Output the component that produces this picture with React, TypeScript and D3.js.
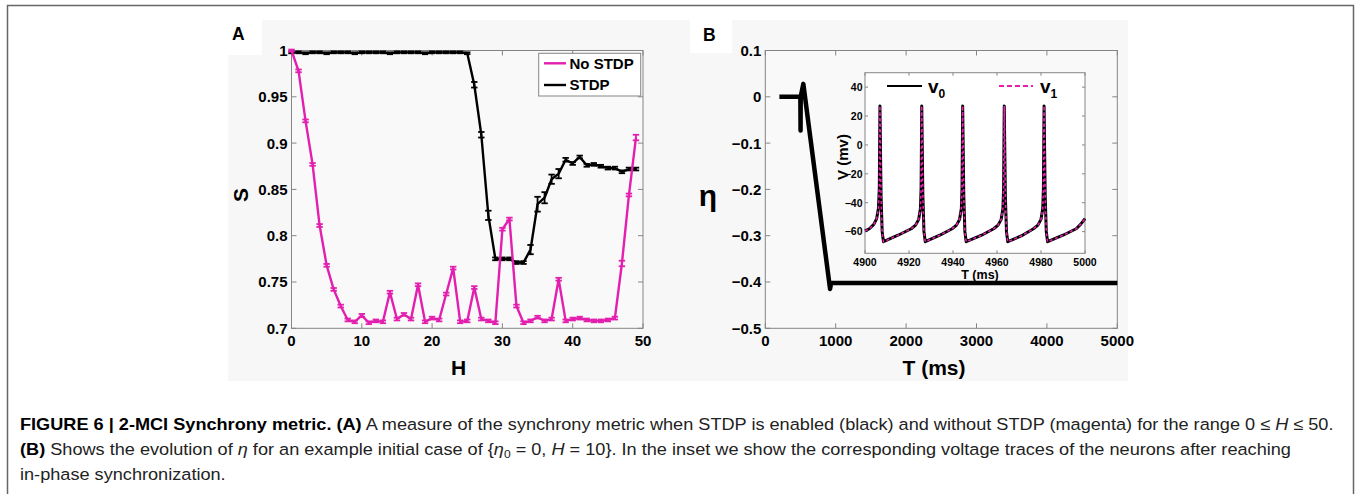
import React, { useEffect, useRef } from "react";
import * as d3 from "d3";

// ---- panel A : synchrony metric S vs H ----
const hValues = [
  0, 1, 2, 3, 4, 5, 6, 7, 8, 9, 10, 11, 12, 13, 14, 15, 16, 17, 18, 19, 20, 21, 22, 23, 24,
  25, 26, 27, 28, 29, 30, 31, 32, 33, 34, 35, 36, 37, 38, 39, 40, 41, 42, 43, 44, 45, 46, 47, 48, 49,
];
const noStdp = [
  1.0, 0.978, 0.924, 0.877, 0.811, 0.768, 0.742, 0.724, 0.709, 0.707, 0.714, 0.706, 0.708, 0.707, 0.739,
  0.71, 0.715, 0.71, 0.747, 0.707, 0.711, 0.709, 0.737, 0.765, 0.707, 0.708, 0.744, 0.71, 0.708, 0.706,
  0.807, 0.818, 0.724, 0.706, 0.708, 0.712, 0.708, 0.71, 0.753, 0.708, 0.71, 0.711, 0.709, 0.708, 0.708,
  0.709, 0.711, 0.77, 0.844, 0.906,
];
const noStdpErr = [
  0.001, 0.0015, 0.0015, 0.0015, 0.0015, 0.0015, 0.0015, 0.0015, 0.0015, 0.0015, 0.0015, 0.0015, 0.0015,
  0.0015, 0.0015, 0.0015, 0.0015, 0.0015, 0.0015, 0.0015, 0.0015, 0.0015, 0.0015, 0.0015, 0.0015, 0.0015,
  0.0015, 0.0015, 0.0015, 0.0015, 0.0015, 0.0015, 0.0015, 0.0015, 0.0015, 0.0015, 0.0015, 0.0015, 0.0015,
  0.0015, 0.0015, 0.0015, 0.0015, 0.0015, 0.0015, 0.0015, 0.0015, 0.003, 0.0015, 0.003,
];
const stdp = [
  0.998, 0.998, 0.997, 0.998, 0.998, 0.997, 0.998, 0.998, 0.998, 0.997, 0.998, 0.998, 0.998, 0.998, 0.997,
  0.998, 0.998, 0.998, 0.998, 0.997, 0.998, 0.998, 0.998, 0.998, 0.998, 0.997, 0.963, 0.909, 0.822, 0.775,
  0.775, 0.775, 0.771, 0.771, 0.785, 0.834, 0.841, 0.861, 0.867, 0.882, 0.878, 0.885, 0.876, 0.877, 0.875,
  0.873, 0.873, 0.869, 0.872, 0.872,
];
const stdpErr = [
  0.001, 0.001, 0.001, 0.001, 0.001, 0.001, 0.001, 0.001, 0.001, 0.001, 0.001, 0.001, 0.001, 0.001, 0.001,
  0.001, 0.001, 0.001, 0.001, 0.001, 0.001, 0.001, 0.001, 0.001, 0.001, 0.001, 0.003, 0.003, 0.005, 0.0015,
  0.0015, 0.0015, 0.0015, 0.0015, 0.005, 0.008, 0.006, 0.005, 0.005, 0.002, 0.0015, 0.0015, 0.0015, 0.0015,
  0.0015, 0.0015, 0.0015, 0.0015, 0.0015, 0.0015,
];
const sTicks = [0.7, 0.75, 0.8, 0.85, 0.9, 0.95, 1];
const sTickLabels = ["0.7", "0.75", "0.8", "0.85", "0.9", "0.95", "1"];
const hTicks = [0, 10, 20, 30, 40, 50];

// ---- panel B : eta vs T ----
const etaTime = [200, 498, 501, 503, 540, 920, 935, 5000];
const etaValue = [0, 0, -0.073, 0.0, 0.028, -0.415, -0.402, -0.402];
const etaTicks = [0.1, 0, -0.1, -0.2, -0.3, -0.4, -0.5];
const tTicks = [0, 1000, 2000, 3000, 4000, 5000];

// ---- inset : voltage traces ----
const vTime = [
  4900, 4902, 4904, 4905.3, 4906.1, 4906.5, 4906.8, 4907.3, 4907.8, 4908.4,
  4915, 4921, 4923, 4924.4, 4925.2, 4925.5, 4925.8, 4926.3, 4926.8, 4927.4,
  4934, 4939.6, 4941.6, 4943, 4943.8, 4944.1, 4944.4, 4944.9, 4945.4, 4946,
  4953, 4958.5, 4960.5, 4961.9, 4962.7, 4963, 4963.3, 4963.8, 4964.3, 4964.9,
  4971, 4976.6, 4978.6, 4980, 4980.8, 4981.1, 4981.4, 4981.9, 4982.4, 4983,
  4990, 4996, 4998, 5000,
];
const v0 = [
  -59.5, -58, -55, -51, -44, -30, 27, -35, -60, -67,
  -62.5, -58, -55.5, -51.5, -44, -30, 27, -35, -60, -67,
  -62.5, -58, -55.5, -51.5, -44, -30, 27, -35, -60, -67,
  -62.5, -58, -55.5, -51.5, -44, -30, 27, -35, -60, -67,
  -63, -58, -55.5, -51.5, -44, -30, 27, -35, -60, -67,
  -62.5, -58, -55, -51,
];
// in-phase synchronization: the second neuron follows the same trace
const v1 = v0;
const vTicks = [40, 20, 0, -20, -40, -60];
const vtTicks = [4900, 4920, 4940, 4960, 4980, 5000];

const magenta = "#e21fae";
const axisGrey = "#858585";
const font = "'Liberation Sans', Arial, Helvetica, sans-serif";

const minus = (s: string) => s.replace("-", "\u2212");

function Frame(props: any) {
  const { x, y, xTicks, yTicks, xFmt, yFmt, tick, size, xLabY, yLabGap, fill } = props;
  const [x0, x1] = x.range();
  const [yb, yt] = y.range();
  return (
    <g fontFamily={font} fontWeight="bold" fontSize={size} fill="#000">
      <rect x={x0} y={yt} width={x1 - x0} height={yb - yt} fill={fill || "none"} stroke={axisGrey} strokeWidth={1} />
      {xTicks.map((t: number, i: number) => (
        <g key={"x" + i}>
          <line x1={x(t)} x2={x(t)} y1={yb} y2={yb - tick} stroke={axisGrey} />
          <line x1={x(t)} x2={x(t)} y1={yt} y2={yt + tick} stroke={axisGrey} />
          <text x={x(t)} y={xLabY} dy="0.36em" textAnchor="middle">{xFmt(t, i)}</text>
        </g>
      ))}
      {yTicks.map((t: number, i: number) => (
        <g key={"y" + i}>
          <line x1={x0} x2={x0 + tick} y1={y(t)} y2={y(t)} stroke={axisGrey} />
          <line x1={x1} x2={x1 - tick} y1={y(t)} y2={y(t)} stroke={axisGrey} />
          <text x={x0 - yLabGap} y={y(t)} dy="0.36em" textAnchor="end">{yFmt(t, i)}</text>
        </g>
      ))}
    </g>
  );
}

function ErrorLine(props: any) {
  const { x, y, xs, ys, errs, color } = props;
  const line = d3.line<number>().x((d, i) => x(xs[i])).y((d) => y(d));
  return (
    <g>
      <path d={line(ys) || ""} fill="none" stroke={color} strokeWidth={2.4} strokeLinejoin="round" />
      {ys.map((v: number, i: number) => {
        const cx = x(xs[i]);
        const lo = y(v - errs[i]);
        const hi = y(v + errs[i]);
        return (
          <g key={i} stroke={color} strokeWidth={1.8}>
            <line x1={cx} x2={cx} y1={lo} y2={hi} />
            <line x1={cx - 3.2} x2={cx + 3.2} y1={lo} y2={lo} />
            <line x1={cx - 3.2} x2={cx + 3.2} y1={hi} y2={hi} />
          </g>
        );
      })}
    </g>
  );
}

export default function App() {
  const capRef = useRef<SVGGElement>(null);

  useEffect(() => {
    // fit the caption to the page width of the reference (condensed face)
    const g = capRef.current;
    if (!g) return;
    const lines = Array.from(g.querySelectorAll("text")) as SVGTextElement[];
    const w = lines[0].getBBox().width;
    const k = 1315 / w;
    lines.forEach((t) => t.setAttribute("transform", `translate(20,0) scale(${k},1)`));
  }, []);

  const xA = d3.scaleLinear().domain([0, 50]).range([291.5, 643]);
  const yA = d3.scaleLinear().domain([0.7, 1]).range([328.3, 50.5]);
  const xB = d3.scaleLinear().domain([0, 5000]).range([765.3, 1117.3]);
  const yB = d3.scaleLinear().domain([-0.5, 0.1]).range([328.3, 50.5]);
  const xI = d3.scaleLinear().domain([4900, 5000]).range([865, 1085]);
  const yI = d3.scaleLinear().domain([-75, 50]).range([253.3, 72.7]);

  const etaLine = d3.line<number>().x((d, i) => xB(etaTime[i])).y((d) => yB(d));
  const vLine = d3.line<number>().x((d, i) => xI(vTime[i])).y((d) => yI(d));

  return (
    <svg width={1360} height={494} style={{ position: "absolute", left: 0, top: 0 }}>
      <rect x={0} y={0} width={1360} height={494} fill="#fff" />
      <rect x={7.5} y={5.5} width={1346} height={500} fill="none" stroke="#666" strokeWidth={1.5} />
      {/* figure background */}
      <rect x={228} y={20} width={900} height={361} fill="#f7f7f7" />
      <rect x={228} y={20} width={34} height={35} fill="#fff" />
      <rect x={690} y={20} width={42} height={33} fill="#fff" />

      {/* ---------------- panel A ---------------- */}
      <text x={232} y={40} fontFamily={font} fontWeight="bold" fontSize={17.5}>A</text>
      <Frame
        x={xA} y={yA} xTicks={hTicks} yTicks={sTicks} tick={5} size={15}
        xFmt={(t: number) => String(t)} yFmt={(t: number, i: number) => sTickLabels[i]}
        xLabY={341} yLabGap={4} fill="#f9f9f9"
      />
      <ErrorLine x={xA} y={yA} xs={hValues} ys={stdp} errs={stdpErr} color="#000" />
      <ErrorLine x={xA} y={yA} xs={hValues} ys={noStdp} errs={noStdpErr} color={magenta} />
      <g fontFamily={font} fontWeight="bold" fontSize={15}>
        <rect x={538.7} y={53.3} width={102} height={42.7} fill="#fff" stroke={axisGrey} />
        <line x1={544} x2={566} y1={63.3} y2={63.3} stroke={magenta} strokeWidth={2.4} />
        <text x={569.5} y={63.3} dy="0.36em">No STDP</text>
        <line x1={544} x2={566} y1={85} y2={85} stroke="#000" strokeWidth={2.4} />
        <text x={569.5} y={85} dy="0.36em">STDP</text>
      </g>
      <text x={458.5} y={375} textAnchor="middle" fontFamily={font} fontWeight="bold" fontSize={21}>H</text>
      <text transform="translate(248,195) rotate(-90)" textAnchor="middle" fontFamily={font} fontWeight="bold" fontSize={21}>S</text>

      {/* ---------------- panel B ---------------- */}
      <text x={703} y={40.5} fontFamily={font} fontWeight="bold" fontSize={17.5}>B</text>
      <Frame
        x={xB} y={yB} xTicks={tTicks} yTicks={etaTicks} tick={5} size={15}
        xFmt={(t: number) => String(t)} yFmt={(t: number) => minus(String(t))}
        xLabY={341} yLabGap={4} fill="#f9f9f9"
      />
      <path d={etaLine(etaValue) || ""} fill="none" stroke="#000" strokeWidth={4.5} strokeLinejoin="round" />
      <text x={934} y={375} textAnchor="middle" fontFamily={font} fontWeight="bold" fontSize={21}>T (ms)</text>
      <text x={708} y={206} textAnchor="middle" fontFamily={font} fontWeight="bold" fontSize={30}>η</text>

      {/* ---------------- inset ---------------- */}
      <Frame
        x={xI} y={yI} xTicks={vtTicks} yTicks={vTicks} tick={3} size={10.5}
        xFmt={(t: number) => String(t)} yFmt={(t: number) => minus(String(t))}
        xLabY={262} yLabGap={2.5} fill="#fff"
      />
      <path d={vLine(v0) || ""} fill="none" stroke="#000" strokeWidth={3} strokeLinejoin="round" />
      <path d={vLine(v1) || ""} fill="none" stroke={magenta} strokeWidth={1.6} strokeDasharray="3,2.5" />
      <g fontFamily={font} fontWeight="bold">
        <line x1={887} x2={922} y1={86} y2={86} stroke="#000" strokeWidth={2.2} />
        <text x={928} y={93} fontSize={19}>v<tspan fontSize={12} dy={5}>0</tspan></text>
        <line x1={999} x2={1033} y1={86} y2={86} stroke={magenta} strokeWidth={2} strokeDasharray="5,3" />
        <text x={1040} y={93} fontSize={19}>v<tspan fontSize={12} dy={5}>1</tspan></text>
        <text x={980} y={279} textAnchor="middle" fontSize={12.5}>T (ms)</text>
        <text transform="translate(848,157) rotate(-90)" textAnchor="middle" fontSize={15}>V (mv)</text>
      </g>

      {/* ---------------- caption ---------------- */}
      <g ref={capRef} fontFamily="'Liberation Sans Narrow', 'Liberation Sans', Arial, sans-serif" fontSize={16.5} fill="#222">
        <text x={0} y={430}>
          <tspan fontWeight="bold" fill="#000">FIGURE 6 | 2-MCI Synchrony metric. (A)</tspan> A measure of the synchrony metric when STDP is enabled (black) and without STDP (magenta) for the range 0 ≤ <tspan fontStyle="italic">H</tspan> ≤ 50.
        </text>
        <text x={0} y={455}>
          <tspan fontWeight="bold" fill="#000">(B)</tspan> Shows the evolution of <tspan fontStyle="italic">η</tspan> for an example initial case of {"{"}<tspan fontStyle="italic">η</tspan><tspan fontSize={11} dy={3}>0</tspan><tspan dy={-3}> = 0, </tspan><tspan fontStyle="italic">H</tspan> = 10{"}"}. In the inset we show the corresponding voltage traces of the neurons after reaching
        </text>
        <text x={0} y={480}>in-phase synchronization.</text>
      </g>
    </svg>
  );
}
